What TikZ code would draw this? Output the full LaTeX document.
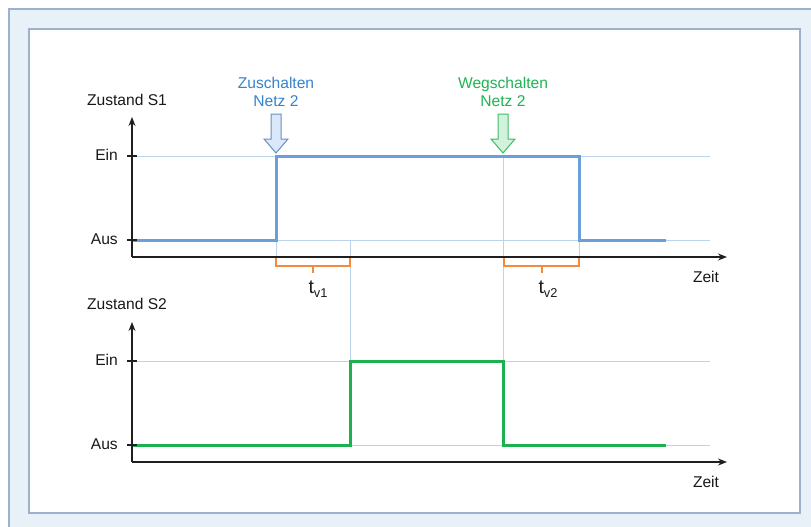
\documentclass[tikz,border=0pt]{standalone}
\usepackage{fontspec}
\setmainfont{Liberation Sans}
\usetikzlibrary{arrows.meta}
\definecolor{panelfill}{HTML}{E8F0F8}
\definecolor{panelline}{HTML}{9AB2CE}
\definecolor{lightln}{HTML}{BCD3EC}
\definecolor{sigblue}{HTML}{6A9FD9}
\definecolor{siggreen}{HTML}{1DB150}
\definecolor{txtblue}{HTML}{3483D0}
\definecolor{txtgreen}{HTML}{1FB352}
\definecolor{arrbluefill}{HTML}{DAE8FC}
\definecolor{arrblueline}{HTML}{6C8EBF}
\definecolor{arrgreenfill}{HTML}{D3F2DD}
\definecolor{arrgreenline}{HTML}{3DBD68}
\definecolor{brk}{HTML}{F58A3C}
\tikzset{
  lbl/.style={font=\fontsize{15.6}{19}\selectfont, text=black!90, inner sep=0pt, align=center},
  axisln/.style={draw=black!88, line width=1.2pt, -{Stealth[length=9pt,width=7pt]}},
  tickln/.style={draw=black!88, line width=1.1pt},
  guide/.style={draw=lightln, line width=0.9pt},
  sigone/.style={draw=sigblue, line width=3pt, line join=miter},
  sigtwo/.style={draw=siggreen, line width=3pt, line join=miter},
  barrowblue/.style={fill=arrbluefill, draw=arrblueline, line width=1pt, line join=miter},
  barrowgreen/.style={fill=arrgreenfill, draw=arrgreenline, line width=1pt, line join=miter},
  bracketln/.style={draw=brk, line width=1.3pt},
  tlbl/.style={font=\fontsize{19.5}{22}\selectfont, text=black!90, inner sep=0pt},
}
\newcommand{\subtxt}[1]{\raisebox{-4.5pt}{\fontsize{12.8}{14}\selectfont #1}}
\begin{document}
\begin{tikzpicture}[x=1pt,y=-1pt]
\useasboundingbox (0,0) rectangle (811,527);
\clip (0,0) rectangle (811,527);
% panels
\draw[fill=panelfill, draw=panelline, line width=1.2pt] (9,9) rectangle (830,545);
\draw[fill=white, draw=panelline, line width=1.2pt] (29,29) rectangle (800,513);

% ---------- top chart ----------
\coordinate (o1) at (132,257);
\coordinate (y1) at (132,117);
\coordinate (x1) at (727,257);
% guide lines
\draw[guide] (137,156) -- (710,156);
\draw[guide] (137,240) -- (710,240);
\draw[guide] (276,240) -- (276,257);
\draw[guide] (579,240) -- (579,257);
\draw[guide] (503,156) -- (503,445);
\draw[guide] (350,240) -- (350,361);
% signal
\draw[sigone] (132,240) -- (276,240) -- (276,156) -- (579,156) -- (579,240) -- (666,240);
% axes
\draw[axisln] (o1) -- (y1);
\draw[axisln] (o1) -- (x1);
\draw[tickln] (127,156) -- (137,156);
\draw[tickln] (127,240) -- (137,240);
\node[lbl] (zs1) at (127,100) {Zustand S1};
\node[lbl, anchor=east] (ein1) at (118,155) {Ein};
\node[lbl, anchor=east] (aus1) at (118,239) {Aus};
\node[lbl] (zeit1) at (706,277) {Zeit};
% event labels
\node[lbl, text=txtblue] (zu) at (276,92) {Zuschalten\\[-0.5pt]Netz 2};
\node[lbl, text=txtgreen] (weg) at (503,92) {Wegschalten\\[-0.5pt]Netz 2};
\draw[barrowblue] (271,114) -- (281,114) -- (281,139) -- (288,139) -- (276,153) -- (264,139) -- (271,139) -- cycle;
\draw[barrowgreen] (498,114) -- (508,114) -- (508,139) -- (515,139) -- (503,153) -- (491,139) -- (498,139) -- cycle;
% brackets
\draw[bracketln] (276,258) -- (276,266) -- (350,266) -- (350,258);
\draw[bracketln] (313,266) -- (313,273);
\draw[bracketln] (504,258) -- (504,266) -- (579,266) -- (579,258);
\draw[bracketln] (542,266) -- (542,273);
\node[tlbl] (tv1) at (318,289) {t\subtxt{v1}};
\node[tlbl] (tv2) at (548,289) {t\subtxt{v2}};

% ---------- bottom chart ----------
\coordinate (o2) at (132,462);
\coordinate (y2) at (132,322);
\coordinate (x2) at (727,462);
\draw[guide] (137,361) -- (710,361);
\draw[guide] (137,445) -- (710,445);
\draw[sigtwo] (132,445) -- (350,445) -- (350,361) -- (503,361) -- (503,445) -- (666,445);
\draw[axisln] (o2) -- (y2);
\draw[axisln] (o2) -- (x2);
\draw[tickln] (127,361) -- (137,361);
\draw[tickln] (127,445) -- (137,445);
\node[lbl] (zs2) at (127,304) {Zustand S2};
\node[lbl, anchor=east] (ein2) at (118,360) {Ein};
\node[lbl, anchor=east] (aus2) at (118,444) {Aus};
\node[lbl] (zeit2) at (706,482) {Zeit};
\end{tikzpicture}
\end{document}
